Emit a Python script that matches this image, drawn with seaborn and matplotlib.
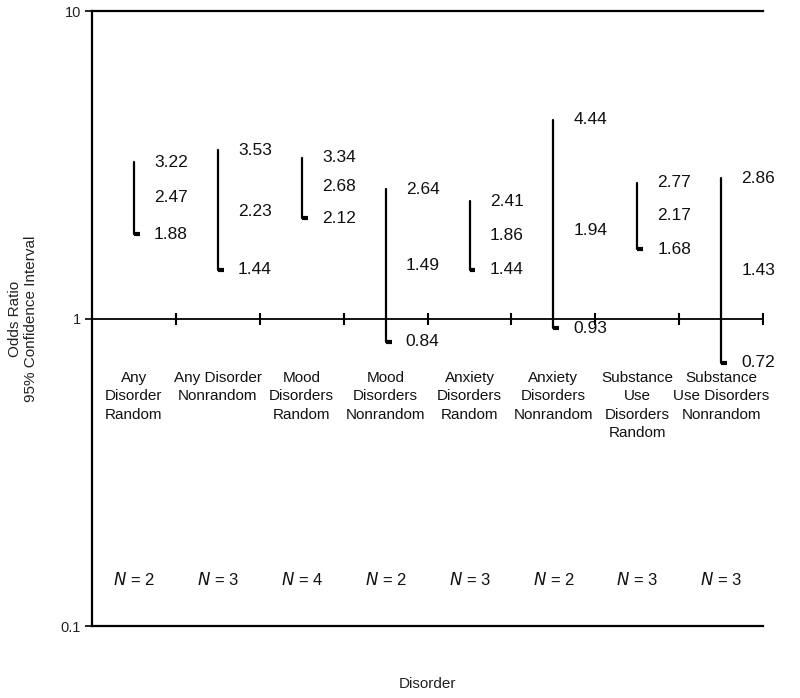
import matplotlib
matplotlib.use('Agg')
import matplotlib.pyplot as plt
import matplotlib.ticker as mticker
import pandas as pd
import seaborn as sns

# Data
categories = ['Any\nDisorder\nRandom', 'Any Disorder\nNonrandom', 'Mood\nDisorders\nRandom',
              'Mood\nDisorders\nNonrandom', 'Anxiety\nDisorders\nRandom', 'Anxiety\nDisorders\nNonrandom',
              'Substance\nUse\nDisorders\nRandom', 'Substance\nUse Disorders\nNonrandom']
lower = [1.88, 1.44, 2.12, 0.84, 1.44, 0.93, 1.68, 0.72]
odds = [2.47, 2.23, 2.68, 1.49, 1.86, 1.94, 2.17, 1.43]
upper = [3.22, 3.53, 3.34, 2.64, 2.41, 4.44, 2.77, 2.86]
n_studies = [2, 3, 4, 2, 3, 2, 3, 3]

pos = list(range(len(categories)))
df = pd.DataFrame({'pos': pos, 'lower': lower, 'odds': odds, 'upper': upper, 'n': n_studies})
long_df = df.melt(id_vars='pos', value_vars=['lower', 'upper'], value_name='value')

sns.set_style('white')
plt.rcParams['font.family'] = ['Liberation Sans', 'DejaVu Sans']

fig = plt.figure(figsize=(8, 6.98), dpi=100)
ax = fig.add_axes([0.115, 0.103, 0.839, 0.881])

# Confidence interval lines
sns.lineplot(data=long_df, x='pos', y='value', units='pos', estimator=None,
             color='black', linewidth=1.6, ax=ax, legend=False)
# small foot at the lower bound
ax.hlines(df['lower'], df['pos'], df['pos'] + 0.07, color='black', linewidth=3)

# reference line at 1 with category-boundary ticks
ax.axhline(1, color='black', linewidth=1.3)
bounds = [p + 0.5 for p in pos]
ax.plot(bounds, [1] * len(bounds), linestyle='none', marker='|', markersize=9,
        markeredgewidth=1.5, color='black')

ax.set_yscale('log')
ax.set_ylim(0.1, 10)
ax.set_xlim(-0.5, 7.5)
ax.yaxis.set_major_locator(mticker.FixedLocator([0.1, 1, 10]))
ax.yaxis.set_minor_locator(mticker.NullLocator())
ax.yaxis.set_major_formatter(mticker.FixedFormatter(['0.1', '1', '10']))
ax.set_xticks([])
ax.tick_params(axis='y', left=True, length=5, width=1.2, color='black',
               labelsize=10.5, labelcolor='#222222', pad=3)

for side in ['left', 'top', 'bottom']:
    ax.spines[side].set_visible(True)
    ax.spines[side].set_color('black')
    ax.spines[side].set_linewidth(1.6)
ax.spines['right'].set_visible(False)

# value labels
for _, r in df.iterrows():
    x = r['pos'] + 0.24
    for v in (r['lower'], r['odds'], r['upper']):
        ax.text(x, v, f'{v:.2f}', fontsize=12.5, va='center', ha='left', color='#111111')

# category labels and N labels
trans = ax.get_xaxis_transform()
for p, c, n in zip(pos, categories, n_studies):
    ax.text(p, 0.415, c, transform=trans, ha='center', va='top', fontsize=11,
            linespacing=1.4, color='#111111')
    ax.text(p, 0.075, f'$\\mathit{{N}}$ = {n}', transform=trans, ha='center',
            va='center', fontsize=12, color='#111111')

ax.set_ylabel('Odds Ratio\n95% Confidence Interval', fontsize=11, color='#222222', labelpad=16)
ax.set_xlabel('Disorder', fontsize=11, color='#222222', labelpad=37)

fig.savefig('out.png', dpi=100)
